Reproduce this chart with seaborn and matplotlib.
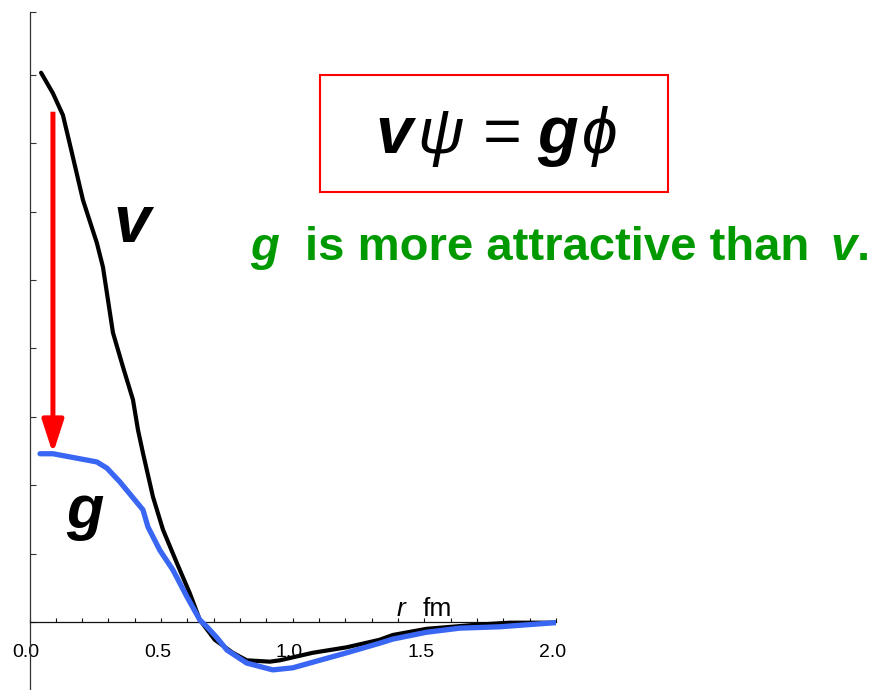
import numpy as np
import pandas as pd
import matplotlib
matplotlib.use("Agg")
import matplotlib.pyplot as plt
import matplotlib.transforms as mtransforms
from matplotlib.patches import Rectangle
from matplotlib.ticker import MultipleLocator, FixedLocator
import seaborn as sns

# bare potential v(r) and the effective (more attractive) potential g(r)
r_v = [0.044, 0.089, 0.127, 0.161, 0.203, 0.256, 0.279, 0.298, 0.317, 0.355,
       0.393, 0.412, 0.431, 0.469, 0.507, 0.560, 0.609, 0.647, 0.704, 0.772,
       0.825, 0.913, 0.951, 1.076, 1.205, 1.330, 1.380, 1.508, 1.698, 1.824, 1.998]
v_vals = [8.03, 7.73, 7.41, 6.86, 6.17, 5.54, 5.19, 4.71, 4.23, 3.73,
          3.25, 2.81, 2.47, 1.83, 1.35, 0.86, 0.42, 0.03, -0.26, -0.45,
          -0.56, -0.58, -0.56, -0.45, -0.37, -0.26, -0.19, -0.10, -0.04, -0.01, -0.01]

r_g = [0.040, 0.089, 0.256, 0.294, 0.343, 0.431, 0.450, 0.495, 0.545, 0.598,
       0.647, 0.674, 0.712, 0.750, 0.825, 0.924, 1.000, 1.102, 1.205, 1.330,
       1.380, 1.508, 1.634, 1.786, 1.998]
g_vals = [2.46, 2.46, 2.34, 2.25, 2.05, 1.64, 1.39, 1.05, 0.76, 0.37,
          0.03, -0.07, -0.23, -0.41, -0.60, -0.70, -0.67, -0.56, -0.45, -0.31,
          -0.25, -0.15, -0.09, -0.07, -0.01]

x_ticks = [0.0, 0.5, 1.0, 1.5, 2.0]
x_tick_labels = ["0.0", "0.5", "1.0", "1.5", "2.0"]
y_ticks = [0, 1, 2, 3, 4, 5, 6, 7, 8]

# arrow from v down to g at small r
arrow_r = 0.089
arrow_from = 7.46
arrow_to = g_vals[1]

sns.set_style("white")
plt.rcParams["font.family"] = ["Liberation Sans", "DejaVu Sans"]
plt.rcParams["text.color"] = "black"

W, H = 877, 690
fig = plt.figure(figsize=(W / 100, H / 100), dpi=100)

# axes geometry in pixels
X0, X2, Y0, YT = 29.5, 556.0, 622.0, 12.0
yunit = 68.4
ax = fig.add_axes([X0 / W, 0.0, (X2 - X0) / W, (H - YT) / H])
ax.set_xlim(0, 2.0)
ax.set_ylim((Y0 - H) / yunit, (Y0 - YT) / yunit)

df_v = pd.DataFrame({"r": r_v, "val": v_vals})
df_g = pd.DataFrame({"r": r_g, "val": g_vals})
sns.lineplot(data=df_v, x="r", y="val", ax=ax, color="black", lw=3.0,
             sort=False, solid_capstyle="round", zorder=3)
sns.lineplot(data=df_g, x="r", y="val", ax=ax, color="#3a66f4", lw=3.8,
             sort=False, solid_capstyle="round", zorder=4)

ax.annotate("", xy=(arrow_r, arrow_to), xytext=(arrow_r, arrow_from),
            arrowprops=dict(arrowstyle="-|>,head_length=2.0,head_width=0.65",
                            color="#ff0000", lw=3.6, shrinkA=0, shrinkB=0,
                            capstyle="butt"),
            zorder=5)

# axes styling: left spine + x axis through zero
for s in ["top", "right"]:
    ax.spines[s].set_visible(False)
ax.spines["bottom"].set_position(("data", 0))
ax.spines["left"].set_color("#333333")
ax.spines["bottom"].set_color("#111111")
ax.spines["left"].set_linewidth(0.9)
ax.spines["bottom"].set_linewidth(0.9)

ax.set_yticks(y_ticks + [ax.get_ylim()[1]])
ax.set_yticklabels([])
ax.tick_params(axis="y", left=True, direction="in", length=4.3, width=0.8,
               color="#333333")

ax.xaxis.set_major_locator(FixedLocator(x_ticks))
ax.set_xticklabels(x_tick_labels)
ax.xaxis.set_minor_locator(MultipleLocator(0.1))
ax.tick_params(axis="x", which="both", bottom=True, direction="in", length=2.8,
               width=0.8, pad=16.0, labelsize=14, color="#111111",
               labelcolor="black")
shift = mtransforms.ScaledTranslation(-3.5 / 100, 0, fig.dpi_scale_trans)
for lab in ax.get_xticklabels():
    lab.set_transform(lab.get_transform() + shift)

ax.set_xlabel("")
ax.set_ylabel("")
ax.grid(False)


def fx(px):
    return px / W


def fy(py):
    return 1 - py / H


bi = dict(fontweight="bold", style="italic", va="baseline")

# axis unit label
fig.text(fx(397), fy(616), "r", fontsize=19, style="italic", va="baseline", ha="left")
fig.text(fx(423), fy(616), "fm", fontsize=19, va="baseline", ha="left")

# curve labels
fig.text(fx(132), fy(242), "v", fontsize=48, ha="center", **bi)
fig.text(fx(85), fy(528), "g", fontsize=44, ha="center", **bi)

# boxed equation  v psi = g phi
fig.patches.append(Rectangle((fx(320), fy(192)), fx(668) - fx(320), fy(75) - fy(192),
                             transform=fig.transFigure, fill=False,
                             edgecolor="#ff0000", lw=1.5))
fig.text(fx(394), fy(153), "v", fontsize=48, ha="center", **bi)
fig.text(fx(441), fy(153), "\u03c8", fontsize=46, ha="center", style="italic",
         va="baseline")
fig.text(fx(502), fy(153), "=", fontsize=48, ha="center", va="baseline")
fig.text(fx(558), fy(153), "g", fontsize=48, ha="center", **bi)
fig.text(fx(600), fy(153), "\u03d5", fontsize=46, ha="center", style="italic",
         va="baseline")

# statement
green = "#009a00"
fig.text(fx(265), fy(260), "g", fontsize=34, color=green, ha="center", **bi)
fig.text(fx(305), fy(260), "is more attractive than", fontsize=34, color=green,
         fontweight="bold", ha="left", va="baseline")
fig.text(fx(857), fy(260), "v", fontsize=34, color=green, ha="right",
         fontweight="bold", style="italic", va="baseline")
fig.text(fx(870), fy(260), ".", fontsize=34, color=green, ha="right",
         fontweight="bold", va="baseline")

fig.savefig("out.png", dpi=100)
